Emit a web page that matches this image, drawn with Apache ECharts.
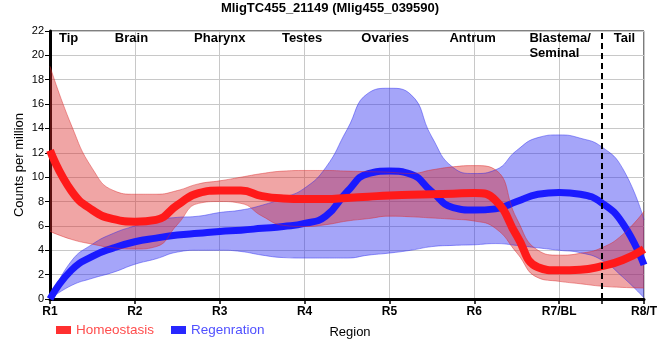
<!DOCTYPE html>
<html><head><meta charset="utf-8">
<script src="https://cdn.jsdelivr.net/npm/echarts@6/dist/echarts.min.js"></script>
<style>html,body{margin:0;padding:0;background:#fff}#c{width:660px;height:360px}</style>
</head><body><div id="c"></div>
<script>
// sample positions along the region axis (0 = R1 ... 7 = R8/T)
const positions = [0,0.25,0.5,0.75,1,1.25,1.5,1.75,2,2.25,2.5,2.75,3,3.25,3.5,3.75,4,4.25,4.5,4.75,5,5.25,5.5,5.75,6,6.25,6.5,6.75,7];
const regionTicks = ['R1','R2','R3','R4','R5','R6','R7/BL','R8/T'];
const regionNames = ['Tip','Brain','Pharynx','Testes','Ovaries','Antrum','Blastema/\nSeminal','Tail'];
const yTicks = [0,2,4,6,8,10,12,14,16,18,20,22];

const homeoMean  = [12.2,8.9,7.3,6.55,6.35,6.5,7.7,8.7,8.9,8.9,8.45,8.25,8.2,8.2,8.3,8.4,8.5,8.55,8.6,8.65,8.7,8.1,5.2,2.6,2.35,2.4,2.7,3.2,4.1];
const homeoUpper = [19.1,14.3,10.7,8.9,8.6,8.6,8.9,9.45,9.7,10.0,10.3,10.5,10.55,10.55,10.5,10.45,10.4,10.3,10.6,10.85,10.95,10.6,6.6,4.0,3.6,3.75,4.2,5.3,7.2];
const homeoLower = [5.55,4.9,4.5,4.2,4.1,4.3,6.1,7.85,8.0,7.85,6.8,6.05,5.95,6.1,6.4,6.6,6.8,6.75,6.65,6.55,6.4,5.8,3.8,1.75,1.45,1.25,1.05,0.95,0.9];
const regenMean  = [0,2.35,3.5,4.2,4.7,5.0,5.25,5.4,5.55,5.65,5.8,5.95,6.2,6.8,8.8,10.3,10.5,10.25,8.8,7.5,7.3,7.4,8.0,8.6,8.75,8.6,7.9,6.2,2.8];
const regenUpper = [0,3.1,4.5,5.4,6.0,6.5,6.7,6.8,7.1,7.3,7.7,8.3,9.1,10.8,13.9,16.9,17.3,16.8,13.3,10.8,10.3,10.6,12.2,13.25,13.47,13.2,12.5,10.7,6.5];
const regenLower = [0,1.1,1.7,2.2,2.85,3.3,3.85,4.0,4.0,3.9,3.6,3.4,3.36,3.36,3.36,3.6,3.77,4.0,4.3,4.4,4.45,4.55,4.4,4.2,4.0,3.8,3.2,1.8,0.1];

const chart = echarts.init(document.getElementById('c'), null, {renderer:'canvas'});
const cats = positions.map(String);
const diff = (u,l) => u.map((v,i) => +(v - l[i]).toFixed(3));
const SANS = "'Liberation Sans', Arial, sans-serif";
const redBand = 'rgba(220,40,40,0.42)';
const blueBand = 'rgba(40,40,240,0.42)';
const SM = 0.5;

const bandLine = c => ({width:1, color:c});

chart.setOption({
  animation:false,
  backgroundColor:'#fff',
  title:{text:'MligTC455_21149 (Mlig455_039590)', left:'center', top:2, padding:0,
    textStyle:{fontFamily:SANS, fontWeight:'bold', fontSize:13, color:'#000'}},
  legend:{left:56, top:323, padding:0, itemWidth:15, itemHeight:8, itemGap:17, icon:'rect',
    textStyle:{fontFamily:SANS, fontSize:13.5},
    data:[{name:'Homeostasis', textStyle:{color:'#ff4d4d'}},{name:'Regenration', textStyle:{color:'#5050ff'}}]},
  grid:{left:50, right:10, top:31, bottom:61, show:true, borderColor:'#000', borderWidth:1},
  xAxis:[{type:'category', data:cats, boundaryGap:false,
    name:'Region', nameLocation:'middle', nameGap:27,
    nameTextStyle:{fontFamily:SANS, fontSize:13, color:'#000', padding:[0,0,0,6]},
    axisLine:{lineStyle:{color:'#000', width:3}},
    axisTick:{interval:(i)=> i%4===0 || i===26, length:5, lineStyle:{color:'#000', width:1.5}},
    axisLabel:{interval:(i)=> i%4===0, formatter:(v,i)=> regionTicks[i/4] || '',
      fontFamily:SANS, fontWeight:'bold', fontSize:12, color:'#000', margin:7},
    splitLine:{show:true, interval:(i)=> i%4===0, lineStyle:{color:'#c8c8c8', width:1}}},
    {type:'value', min:0, max:7, show:false}],
  yAxis:{type:'value', min:0, max:22, interval:2,
    name:'Counts per million', nameLocation:'middle', nameGap:24, nameMoveOverlap:false,
    nameTextStyle:{fontFamily:SANS, fontSize:13, color:'#000'},
    axisLine:{show:true, lineStyle:{color:'#000', width:3}},
    axisTick:{show:true, length:5, lineStyle:{color:'#000', width:1}},
    axisLabel:{fontFamily:SANS, fontSize:11, color:'#000', margin:6,
      formatter:(v)=> yTicks.includes(v) ? String(v) : ''},
    splitLine:{lineStyle:{color:'#c8c8c8', width:1}}},
  series:[
    {name:'regenLo', type:'line', data:regenLower, stack:'rb', smooth:SM, symbol:'none', silent:true,
      lineStyle:bandLine('rgba(40,40,240,0.45)')},
    {name:'regenBand', type:'line', data:diff(regenUpper, regenLower), stack:'rb', smooth:SM, symbol:'none', silent:true,
      lineStyle:bandLine('rgba(40,40,240,0.45)'), areaStyle:{color:blueBand, opacity:1}},
    {name:'Regenration', type:'line', data:regenMean, smooth:SM, symbol:'none', color:'#2828ff',
      lineStyle:{width:7, color:'#1a1aff'}},
    {name:'homeoLo', type:'line', data:homeoLower, stack:'hb', smooth:SM, symbol:'none', silent:true,
      lineStyle:bandLine('rgba(220,40,40,0.45)')},
    {name:'homeoBand', type:'line', data:diff(homeoUpper, homeoLower), stack:'hb', smooth:SM, symbol:'none', silent:true,
      lineStyle:bandLine('rgba(220,40,40,0.45)'), areaStyle:{color:redBand, opacity:1}},
    {name:'Homeostasis', type:'line', data:homeoMean, smooth:SM, symbol:'none', color:'#ff3030',
      lineStyle:{width:8, color:'#ff1a1a'},
      markLine:{silent:true, symbol:['none','none'], label:{show:false},
        lineStyle:{color:'#000', type:[6,4], width:2},
        data:[{xAxis:'6.5'}]}}
  ]
});

// region name annotations above the curves
const spots = [[0.22,'center'],[0.96,'center'],[2,'center'],[2.97,'center'],[3.95,'center'],[4.98,'center'],[5.65,'left'],[6.77,'center']];
chart.setOption({graphic: regionNames.map((n,i)=>({
  type:'text', silent:true,
  x: chart.convertToPixel({xAxisIndex:1}, spots[i][0]), y: 31,
  style:{text:n, fontFamily:SANS, fontWeight:'bold', fontSize:13, fill:'#000',
    align:spots[i][1], verticalAlign:'top', lineHeight:15}
}))});
</script>
</body></html>
